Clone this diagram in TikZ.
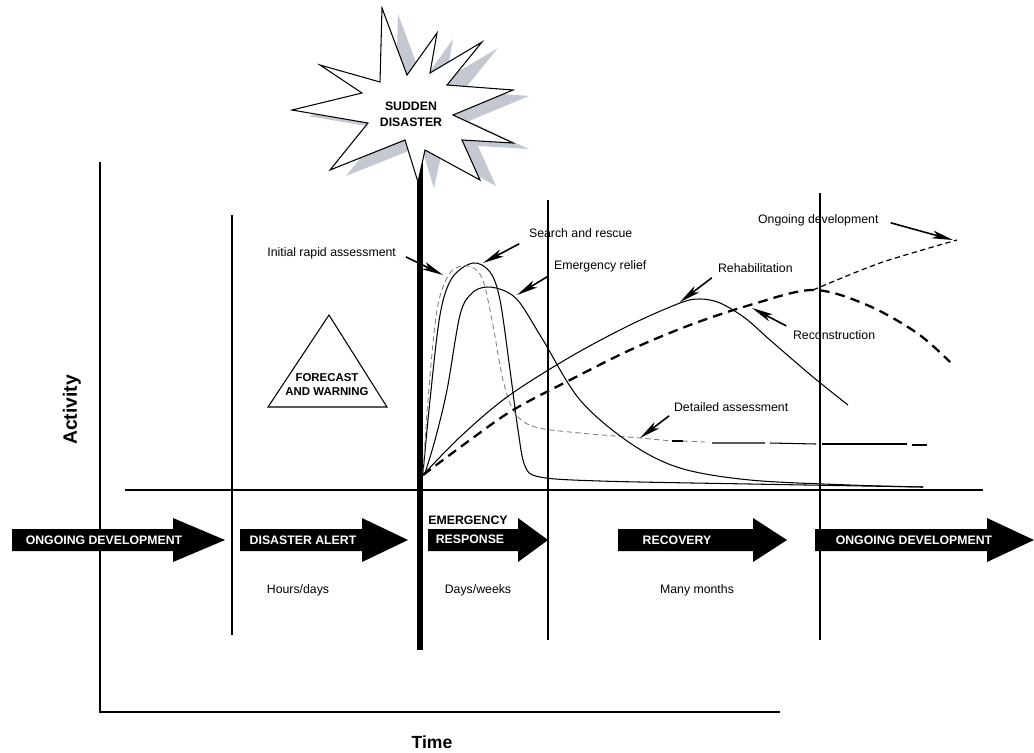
\documentclass[tikz,border=0pt]{standalone}
\usepackage{fontspec}
\setmainfont{Liberation Sans}
\usepackage{xcolor}
\usetikzlibrary{positioning, calc, arrows.meta}
\definecolor{shadowgray}{RGB}{196,200,208}
\tikzset{
  lbl/.style={font=\fontsize{7}{8}\selectfont, inner sep=1pt},
  phase/.style={font=\fontsize{7}{8}\selectfont\bfseries, text=white, inner sep=0pt},
  pointer/.style={-{Stealth[length=12pt,width=4.5pt,inset=3pt]}, line width=0.9pt},
  curve/.style={line width=0.6pt},
}
\newcommand{\phasearrow}[3]{\fill (#1,529)--(#2,529)--(#2,518)--(#3,540)--(#2,562)--(#2,551)--(#1,551)--cycle;}

\begin{document}
\begin{tikzpicture}[x=0.02cm, y=-0.02cm]
  \useasboundingbox (0,0) rectangle (1034,752);
  % axes
  \draw[line width=1.1pt] (100,162) -- (100,712) -- (780,712);
  \node[rotate=90, font=\fontsize{11}{12}\selectfont\bfseries] (act) at (72,410) {Activity};
  \node[font=\fontsize{10}{12}\selectfont\bfseries] (time) at (432,742) {Time};
  \draw[line width=0.6pt] (125,490) -- (983,490); % baseline
  % phase borders
  \draw[line width=0.6pt] (232,215) -- (232,635);
  \draw[line width=1.4pt] (232,300) -- (232,485);
  \draw[line width=0.6pt] (548,200) -- (548,640);
  \draw[line width=1.4pt] (548,297) -- (548,450);
  \draw[line width=0.6pt] (820,193) -- (820,640);
  % starburst
  \fill[shadowgray, shift={(16,6)}] (382,8) -- (407,75) -- (437,33) -- (430,73) -- (482,42) -- (447,85)
    -- (513,90) -- (453,115) -- (513,143) -- (462,140) -- (480,180) -- (425,150) -- (418,182)
    -- (405,140) -- (330,170) -- (368,123) -- (292,110) -- (362,93) -- (320,65) -- (380,82) -- cycle;
  \draw[line width=3.4pt] (420,148) -- (420,650); % disaster
  \filldraw[fill=white, line width=0.6pt] (382,8) -- (407,75) -- (437,33) -- (430,73) -- (482,42) -- (447,85)
    -- (513,90) -- (453,115) -- (513,143) -- (462,140) -- (480,180) -- (425,150) -- (418,182)
    -- (405,140) -- (330,170) -- (368,123) -- (292,110) -- (362,93) -- (320,65) -- (380,82) -- cycle;
  \node[font=\fontsize{7}{9}\selectfont\bfseries, align=center] (burst) at (411,114) {SUDDEN\\DISASTER};
  % forecast
  \draw[line width=0.6pt] (329,315) -- (387,407) -- (268,407) -- cycle;
  \node[font=\fontsize{6.5}{8}\selectfont\bfseries, align=center] (fcst) at (327,385) {FORECAST\\AND WARNING};
  % curves
  \draw[curve] plot[smooth, tension=0.55] coordinates {(423,473) (430,400) (440,315) (452,278) (473,263)
    (490,272) (500,300) (510,370) (518,430) (525,466) (540,477) (600,481) (750,484) (923,487)}; % search and rescue
  \draw[gray, line width=0.5pt, densely dashed] plot[smooth, tension=0.55] coordinates {(423,473) (428,400)
    (437,310) (450,273) (468,266) (482,278) (492,320) (503,380) (515,413) (535,427) (580,433) (640,438) (672,441)};
  \draw[line width=1.6pt] (672,441) -- (683,441);
  \draw[gray, line width=0.5pt, densely dashed] (683,441) -- (705,442);
  \draw[line width=0.6pt] (712,443) -- (765,443) (770,443) -- (816,444);
  \draw[line width=1.6pt] (822,444) -- (907,444) (912,445) -- (927,445);
  \draw[curve] plot[smooth, tension=0.55] coordinates {(425,473) (435,440) (447,390) (460,315) (472,293)
    (487,287) (505,291) (520,303) (543,340) (580,400) (630,443) (680,468) (750,480) (850,485) (923,487)}; % relief
  \draw[curve] plot[smooth, tension=0.55] coordinates {(423,475) (460,437) (507,397) (570,357) (630,325)
    (680,303) (700,299) (720,303) (745,318) (770,340) (813,377) (848,405)}; % rehabilitation
  \draw[line width=1.3pt, dash pattern=on 5.5pt off 3.5pt] plot[smooth, tension=0.55] coordinates {(423,475)
    (470,440) (513,410) (570,380) (630,350) (690,325) (750,305) (813,290) (867,305) (917,333) (950,362)}; % reconstruction
  \draw[line width=0.7pt, dash pattern=on 3pt off 2pt] plot[smooth] coordinates {(813,290) (880,263) (957,240)};
  % labels
  \node[lbl, anchor=east] (ira) at (398,253) {Initial rapid assessment};
  \node[lbl, anchor=west] (sar) at (527,233) {Search and rescue};
  \node[lbl, anchor=west] (er) at (552,266) {Emergency relief};
  \node[lbl, anchor=west] (reh) at (716,268) {Rehabilitation};
  \node[lbl, anchor=west] (rec) at (791,335) {Reconstruction};
  \node[lbl, anchor=west] (ogd) at (756,220) {Ongoing development};
  \node[lbl, anchor=west] (det) at (672,407) {Detailed assessment};
  \coordinate (ira tip) at (443,275);
  \coordinate (sar tip) at (483,263);
  \coordinate (er tip) at (517,295);
  \coordinate (reh tip) at (680,302);
  \coordinate (rec tip) at (752,308);
  \coordinate (ogd tip) at (953,240);
  \coordinate (det tip) at (640,438);
  \draw[pointer, shorten <=5pt] (ira.east) -- (ira tip);
  \draw[pointer, shorten <=5pt] (sar.south west) -- (sar tip);
  \draw[pointer, shorten <=3pt] (er.south west) -- (er tip);
  \draw[pointer, shorten <=3pt] (reh.south west) -- (reh tip);
  \draw[pointer, shorten <=3pt] (rec.north west) -- (rec tip);
  \draw[pointer, shorten <=6pt] (ogd.east) -- (ogd tip);
  \draw[pointer, shorten <=2pt] (det.south west) -- (det tip);
  % phases
  \phasearrow{12}{173}{225}
  \phasearrow{240}{362}{408}
  \phasearrow{428}{518}{548}
  \phasearrow{618}{753}{787}
  \phasearrow{815}{987}{1034}
  \node[phase] (p1) at (104,540) {ONGOING DEVELOPMENT};
  \node[phase] (p2) at (303,540) {DISASTER ALERT};
  \node[font=\fontsize{7}{8}\selectfont\bfseries, inner sep=0pt] (p3a) at (468,520) {EMERGENCY};
  \node[phase] (p3) at (470,539) {RESPONSE};
  \node[phase] (p4) at (677,540) {RECOVERY};
  \node[phase] (p5) at (914,540) {ONGOING DEVELOPMENT};
  \node[lbl] (d2) at (298,590) {Hours/days};
  \node[lbl] (d3) at (478,590) {Days/weeks};
  \node[lbl] (d4) at (697,590) {Many months};
\end{tikzpicture}
\end{document}
